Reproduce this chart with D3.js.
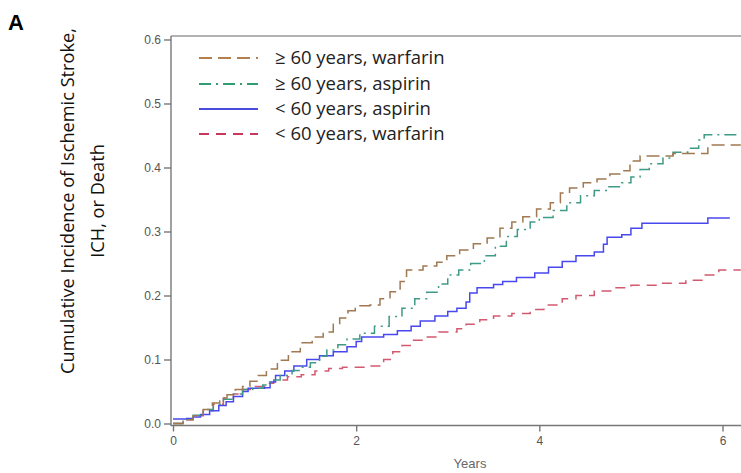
<!DOCTYPE html>
<html>
<head>
  <meta charset="utf-8">
  <script src="https://d3js.org/d3.v7.min.js"></script>
  <style>
    body { margin: 0; background: #fff; }
    svg { display: block; }
    .axis text { font-family: "Liberation Sans", Arial, sans-serif; font-size: 12px; fill: #555; }
    .axis path, .axis line { stroke: #777; stroke-width: 1.4; }
  </style>
</head>
<body>
<div id="chart"></div>
<script>
// ---- data (years, cumulative incidence) ----
const seriesNames = ["≥ 60 years, warfarin", "≥ 60 years, aspirin", "< 60 years, aspirin", "< 60 years, warfarin"];

const oldWarfarinT = [0, 0.11, 0.22, 0.33, 0.43, 0.51, 0.59, 0.68, 0.76, 0.84, 0.93, 1.02, 1.14, 1.26, 1.39, 1.52, 1.64, 1.75, 1.82, 1.91, 1.99, 2.15, 2.26, 2.37, 2.48, 2.55, 2.73, 2.88, 2.99, 3.13, 3.28, 3.43, 3.57, 3.70, 3.82, 3.97, 4.12, 4.23, 4.33, 4.48, 4.63, 4.77, 4.90, 4.99, 5.10, 5.46, 5.84, 6.2];
const oldWarfarinV = [0, 0.006, 0.012, 0.022, 0.032, 0.04, 0.045, 0.053, 0.058, 0.066, 0.075, 0.085, 0.099, 0.112, 0.126, 0.135, 0.143, 0.155, 0.165, 0.176, 0.184, 0.185, 0.195, 0.206, 0.222, 0.24, 0.246, 0.252, 0.262, 0.271, 0.281, 0.29, 0.305, 0.315, 0.323, 0.335, 0.345, 0.36, 0.368, 0.376, 0.382, 0.39, 0.395, 0.41, 0.418, 0.422, 0.435, 0.435];

const oldAspirinT = [0, 0.11, 0.22, 0.33, 0.44, 0.55, 0.66, 0.76, 0.87, 0.98, 1.06, 1.17, 1.3, 1.4, 1.5, 1.6, 1.68, 1.8, 1.9, 2.04, 2.2, 2.36, 2.5, 2.64, 2.77, 2.9, 3.0, 3.12, 3.25, 3.4, 3.52, 3.64, 3.76, 3.9, 4.0, 4.15, 4.3, 4.45, 4.6, 4.75, 4.9, 5.0, 5.1, 5.2, 5.35, 5.46, 5.62, 5.74, 5.8, 6.2];
const oldAspirinV = [0, 0.006, 0.013, 0.022, 0.03, 0.038, 0.046, 0.053, 0.055, 0.06, 0.068, 0.075, 0.083, 0.088, 0.095, 0.105, 0.115, 0.123, 0.132, 0.141, 0.152, 0.167, 0.18, 0.195, 0.205, 0.218, 0.232, 0.24, 0.25, 0.262, 0.277, 0.292, 0.303, 0.315, 0.322, 0.333, 0.345, 0.356, 0.364, 0.37, 0.376, 0.385, 0.397, 0.406, 0.415, 0.424, 0.43, 0.443, 0.451, 0.451];

const youngAspirinT = [0, 0.15, 0.22, 0.3, 0.4, 0.5, 0.58, 0.66, 0.76, 0.82, 1.0, 1.06, 1.12, 1.22, 1.32, 1.46, 1.6, 1.75, 1.9, 2.0, 2.06, 2.3, 2.45, 2.6, 2.7, 2.86, 3.0, 3.1, 3.2, 3.24, 3.32, 3.5, 3.6, 3.75, 3.95, 4.1, 4.25, 4.4, 4.6, 4.7, 4.74, 4.9, 5.0, 5.12, 5.84, 6.08];
const youngAspirinV = [0.007, 0.008, 0.01, 0.014, 0.02, 0.028, 0.034, 0.042, 0.05, 0.055, 0.056, 0.065, 0.075, 0.082, 0.09, 0.1, 0.106, 0.112, 0.12, 0.128, 0.135, 0.139, 0.145, 0.152, 0.16, 0.168, 0.175, 0.18, 0.19, 0.204, 0.212, 0.217, 0.222, 0.228, 0.235, 0.244, 0.253, 0.262, 0.268, 0.28, 0.291, 0.295, 0.305, 0.313, 0.321, 0.321];

const youngWarfarinT = [0, 0.11, 0.22, 0.33, 0.44, 0.55, 0.66, 0.76, 0.9, 1.0, 1.1, 1.25, 1.4, 1.55, 1.7, 1.85, 2.15, 2.3, 2.4, 2.5, 2.6, 2.75, 2.9, 3.1, 3.2, 3.35, 3.5, 3.7, 3.9, 4.05, 4.25, 4.4, 4.6, 4.8, 5.0, 5.3, 5.6, 5.8, 5.96, 6.2];
const youngWarfarinV = [0, 0.006, 0.012, 0.02, 0.03, 0.04, 0.046, 0.053, 0.058, 0.063, 0.068, 0.073, 0.076, 0.082, 0.086, 0.088, 0.09, 0.1, 0.112, 0.122, 0.13, 0.135, 0.143, 0.148, 0.155, 0.162, 0.168, 0.172, 0.178, 0.185, 0.195, 0.2, 0.207, 0.212, 0.216, 0.219, 0.224, 0.232, 0.24, 0.24];

const xTicks = [0, 2, 4, 6];
const yTicks = [0, 0.1, 0.2, 0.3, 0.4, 0.5, 0.6];

// ---- styling per series ----
const colors = ["#a07852", "#3f9a86", "#4848ee", "#d25a70"];
const legendColors = ["#b57f4c", "#2f9c72", "#4b4bdb", "#c8385a"];
const dashes = ["13,6", "12,5,2,5", null, "10,7"];

const W = 741, H = 473;
const svg = d3.select("#chart").append("svg")
  .attr("width", W).attr("height", H);

const x = d3.scaleLinear().domain([0, 6]).range([173, 722.5]);
const y = d3.scaleLinear().domain([0, 0.6]).range([423.5, 39.5]);

// frame: top border
svg.append("line")
  .attr("x1", 171).attr("x2", W).attr("y1", 36).attr("y2", 36)
  .attr("stroke", "#999").attr("stroke-width", 1.6);

// y axis
const yAxis = svg.append("g").attr("class", "axis")
  .attr("transform", "translate(171,0)")
  .call(d3.axisLeft(y).tickValues(yTicks).tickFormat(d3.format(".1f")).tickSize(7).tickSizeOuter(0).tickPadding(3));
yAxis.select(".domain").attr("d", "M0,36V426");

// x axis
const xAxis = svg.append("g").attr("class", "axis")
  .attr("transform", "translate(0,425.5)")
  .call(d3.axisBottom(x).tickValues(xTicks).tickFormat(d3.format("d")).tickSize(6).tickSizeOuter(0).tickPadding(5));
xAxis.select(".domain").attr("d", `M171,0H${W}`);

// axis titles
svg.append("text")
  .attr("x", 470).attr("y", 468)
  .attr("text-anchor", "middle")
  .style("font-family", "Liberation Sans, Arial, sans-serif")
  .style("font-size", "13px").style("fill", "#666")
  .text("Years");

const yTitle = svg.append("text")
  .attr("transform", "translate(68,201) rotate(-90)")
  .attr("text-anchor", "middle")
  .style("font-family", "Open Sans, sans-serif")
  .style("font-size", "18.2px").style("fill", "#111");
yTitle.append("tspan").attr("x", 0).attr("dy", "0.35em").text("Cumulative Incidence of Ischemic Stroke,");
yTitle.append("tspan").attr("x", 0).attr("dy", "1.65em").text("ICH, or Death");

// panel letter
svg.append("text")
  .attr("x", 8).attr("y", 30)
  .style("font-family", "Liberation Sans, Arial, sans-serif")
  .style("font-size", "22px").style("font-weight", "bold")
  .text("A");

// curves
const series = [
  { t: oldWarfarinT, v: oldWarfarinV },
  { t: oldAspirinT, v: oldAspirinV },
  { t: youngAspirinT, v: youngAspirinV },
  { t: youngWarfarinT, v: youngWarfarinV }
];

const line = d3.line()
  .x(d => x(d[0]))
  .y(d => y(d[1]))
  .curve(d3.curveStepAfter);

// draw in reverse so the first series sits on top
[3, 2, 1, 0].forEach(i => {
  const pts = series[i].t.map((t, k) => [t, series[i].v[k]]);
  svg.append("path")
    .datum(pts)
    .attr("fill", "none")
    .attr("stroke", colors[i])
    .attr("stroke-width", 1.5)
    .attr("stroke-dasharray", dashes[i])
    .attr("d", line);
});

// legend
const rowY = [58, 84, 109, 134];
const legend = svg.append("g");
seriesNames.forEach((name, i) => {
  legend.append("line")
    .attr("x1", 199).attr("x2", 258)
    .attr("y1", rowY[i]).attr("y2", rowY[i])
    .attr("stroke", legendColors[i]).attr("stroke-width", 2)
    .attr("stroke-dasharray", dashes[i]);
  legend.append("text")
    .attr("x", 275).attr("y", rowY[i]).attr("dy", "0.35em")
    .style("font-family", "Open Sans, sans-serif")
    .style("font-size", "18.5px").style("fill", "#222")
    .text(name);
});
</script>
</body>
</html>
